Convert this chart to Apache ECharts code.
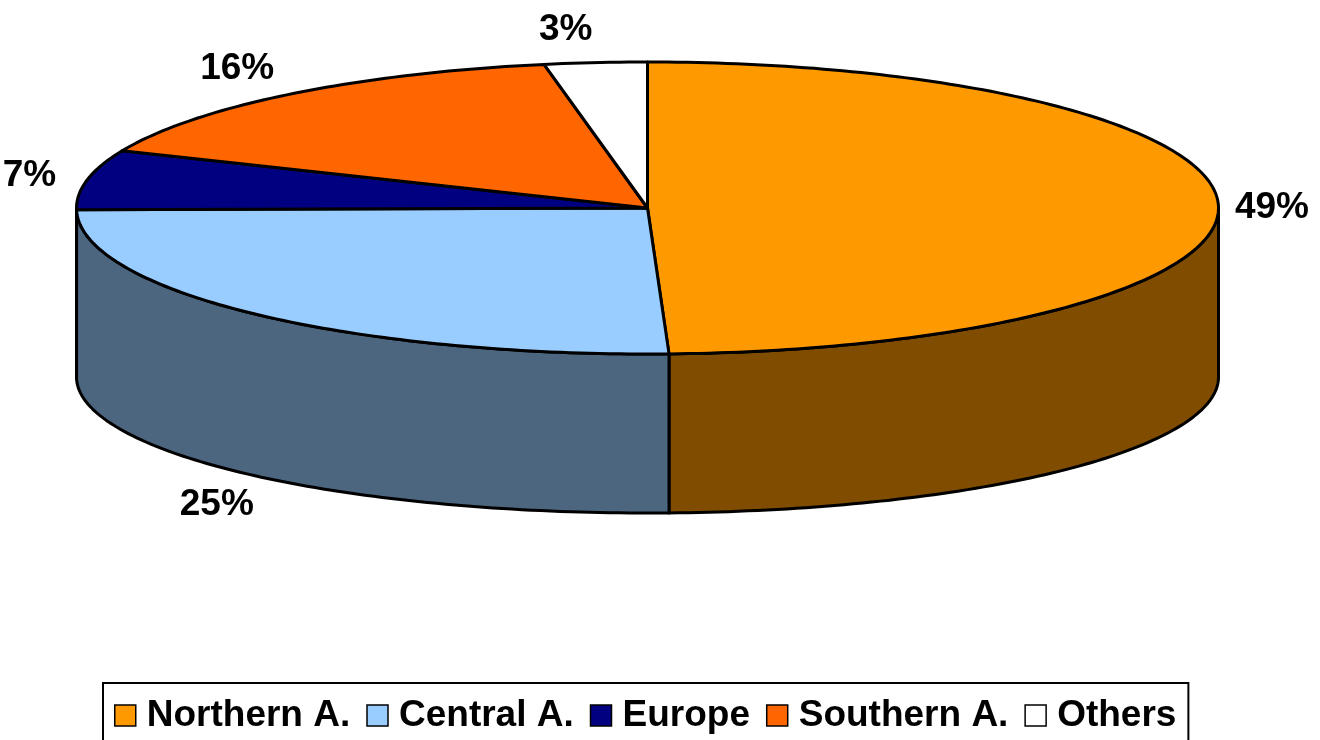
<!DOCTYPE html>
<html>
<head>
<meta charset="utf-8">
<script src="https://cdn.jsdelivr.net/npm/echarts/dist/echarts.min.js"></script>
<style>
  html, body { margin: 0; padding: 0; background: #fff; }
  #chart { width: 1320px; height: 740px; }
</style>
</head>
<body>
<div id="chart"></div>
<script>
// 데이터
const categories = ['Northern A.', 'Central A.', 'Europe', 'Southern A.', 'Others'];
const shares = [49.4, 25.4, 6.6, 15.7, 2.9];
const topColors = ['#FF9900', '#99CCFF', '#000080', '#FF6600', '#FFFFFF'];
const sideColors = ['#7F4C00', '#4C6680', '#000040', '#803300', '#808080'];

// 3D 파이 기하 (윗면 타원 + 약간 납작한 아랫면 타원)
const cx = 647.5, cy = 208, rx = 571, ry = 146;
const edgeDepth = 169, ryBottom = 136;
const total = shares.reduce((a, b) => a + b, 0);

function pt(deg, bottom) {
  const r = deg * Math.PI / 180;
  if (bottom) return [cx + rx * Math.sin(r), cy + edgeDepth - ryBottom * Math.cos(r)];
  return [cx + rx * Math.sin(r), cy - ry * Math.cos(r)];
}

function arc(a, b, bottom) {
  const pts = [];
  const n = Math.max(2, Math.ceil(Math.abs(b - a)));
  for (let k = 0; k <= n; k++) pts.push(pt(a + (b - a) * k / n, bottom));
  return pts;
}

function renderSlice(params, api) {
  const i = params.seriesIndex;
  const before = shares.slice(0, i).reduce((a, b) => a + b, 0);
  const start = before / total * 360;
  const end = (before + api.value(0)) / total * 360;
  const children = [];

  // 옆면 (앞쪽 절반만 보임)
  const s = Math.max(start, 90), e = Math.min(end, 270);
  if (s < e) {
    const pts = arc(s, e, false).concat(arc(e, s, true));
    children.push({
      type: 'polygon',
      shape: { points: pts },
      style: { fill: sideColors[i], stroke: '#000', lineWidth: 3, lineJoin: 'round' },
      z2: 0
    });
  }

  // 윗면
  children.push({
    type: 'polygon',
    shape: { points: [[cx, cy]].concat(arc(start, end, false)) },
    style: { fill: topColors[i], stroke: '#000', lineWidth: 3, lineJoin: 'round' },
    z2: 10
  });

  // 라벨
  const mid = (start + end) / 2;
  const r = mid * Math.PI / 180;
  const sn = Math.sin(r), cs = Math.cos(r);
  const p = cs < 0 ? pt(mid, true) : pt(mid, false);
  const lx = p[0] + 54 * sn - 25 * Math.max(cs, 0);
  const ly = p[1] + 3 - 36 * cs;
  children.push({
    type: 'text',
    x: lx,
    y: ly,
    style: {
      text: Math.round(api.value(0) / total * 100) + '%',
      fontSize: 37,
      fontWeight: 'bold',
      fontFamily: 'Liberation Sans, Arial, sans-serif',
      fill: '#000',
      align: 'center',
      verticalAlign: 'middle'
    },
    z2: 20
  });

  return { type: 'group', children: children };
}

const chart = echarts.init(document.getElementById('chart'));

const option = {
  animation: false,
  legend: {
    data: categories,
    left: 103,
    top: 683,
    icon: 'rect',
    itemWidth: 21,
    itemHeight: 21,
    itemGap: 16,
    padding: [14, 12, 40, 11],
    borderColor: '#000',
    borderWidth: 2,
    itemStyle: { borderColor: '#000', borderWidth: 1.5 },
    textStyle: {
      fontSize: 37,
      fontWeight: 'bold',
      fontFamily: 'Liberation Sans, Arial, sans-serif',
      color: '#000',
      padding: [0, 0, 0, 6]
    },
    selectedMode: false
  },
  series: categories.map((name, i) => ({
    type: 'custom',
    name: name,
    coordinateSystem: 'none',
    itemStyle: { color: topColors[i] },
    renderItem: renderSlice,
    data: [[shares[i]]]
  }))
};

chart.setOption(option);
</script>
</body>
</html>
